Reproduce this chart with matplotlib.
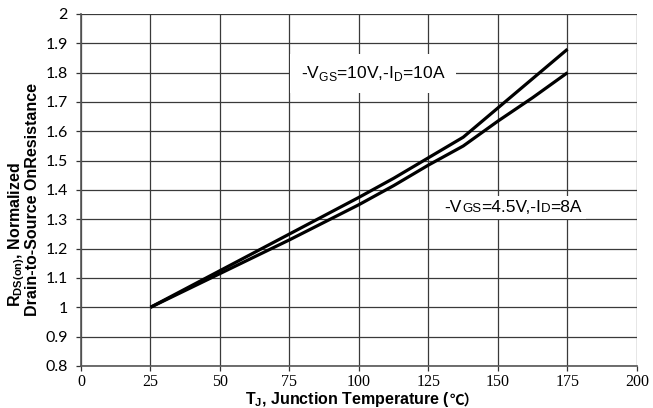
import matplotlib
matplotlib.use("Agg")
import matplotlib.pyplot as plt
from matplotlib.offsetbox import TextArea, HPacker, AnnotationBbox

plt.rcParams['mathtext.fontset'] = 'custom'
plt.rcParams['mathtext.rm'] = 'Liberation Sans'
plt.rcParams['mathtext.bf'] = 'Liberation Sans:bold'

# Data
temp = [25, 50, 75, 100, 112.5, 125, 137.5, 150, 162.5, 175]
r_10v = [1.0, 1.125, 1.25, 1.375, 1.44, 1.51, 1.58, 1.68, 1.78, 1.88]
r_45v = [1.0, 1.115, 1.23, 1.35, 1.415, 1.485, 1.55, 1.635, 1.715, 1.80]
xticks = [0, 25, 50, 75, 100, 125, 150, 175, 200]
yticks = [0.8, 0.9, 1.0, 1.1, 1.2, 1.3, 1.4, 1.5, 1.6, 1.7, 1.8, 1.9, 2.0]
ytick_labels = ['0.8', '0.9', '1', '1.1', '1.2', '1.3', '1.4', '1.5', '1.6', '1.7', '1.8', '1.9', '2']

W, H = 653, 408
fig = plt.figure(figsize=(W / 100, H / 100), dpi=100)
ax = fig.add_axes([0.124, 0.103, 0.8515, 0.8627])

ax.plot(temp, r_10v, color='black', lw=2.3, zorder=4, solid_capstyle='butt')
ax.plot(temp, r_45v, color='black', lw=2.3, zorder=4, solid_capstyle='butt')

ax.set_xlim(0, 200)
ax.set_ylim(0.8, 2.0)
ax.set_xticks(xticks)
ax.set_xticklabels([str(v) for v in xticks], fontfamily='Liberation Serif', fontsize=11.5)
ax.set_yticks(yticks)
ax.set_yticklabels(ytick_labels, fontfamily='Lato', fontsize=11.5)
ax.tick_params(axis='both', length=3.5, width=0.9, color='#333333')
ax.tick_params(axis='x', pad=2)
ax.tick_params(axis='y', pad=6)
ax.grid(True, color='#3a3a3a', lw=0.9, zorder=1)
ax.set_axisbelow(True)
for s in ['top', 'right']:
    ax.spines[s].set_visible(False)
for s in ['left', 'bottom']:
    ax.spines[s].set_color('#555555')
    ax.spines[s].set_linewidth(1.2)

# Y label (two lines placed as in the reference)
fig.text(17 / W, 1 - 235 / H, r'R$_{\mathbf{DS(on)}}$, Normalized', rotation=90,
         fontfamily='Liberation Sans', fontweight='bold', fontsize=11.5,
         ha='center', va='center')
fig.text(33 / W, 1 - 200 / H, 'Drain-to-Source OnResistance', rotation=90,
         fontfamily='Liberation Sans', fontweight='bold', fontsize=11.5,
         ha='center', va='center')

# X label
xl_parts = [
    TextArea(r'T$_{\mathbf{J}}$, Junction Temperature (',
             textprops=dict(fontfamily='Liberation Sans', fontweight='bold', fontsize=11.5)),
    TextArea('℃）', textprops=dict(fontfamily='Noto Sans CJK SC', fontweight='bold', fontsize=10.5)),
]
xl_pack = HPacker(children=xl_parts, align='baseline', pad=0, sep=0)
xl_ab = AnnotationBbox(xl_pack, (362 / W, 1 - 399.8 / H), xycoords='figure fraction',
                       frameon=False, pad=0, box_alignment=(0.5, 0.5))
fig.add_artist(xl_ab)

# Annotation 1
ax.text(105, 1.797, r'-V$_{\rm GS}$=10V,-I$_{\rm D}$=10A', fontfamily='Liberation Sans',
        fontsize=12.5, ha='center', va='center', zorder=3,
        bbox=dict(facecolor='white', edgecolor='none', boxstyle='square,pad=0.6'))

# Annotation 2 (small-caps style subscripts)
big, small = 12.5, 9.5
parts = [('-V', big), ('GS', small), ('=4.5V,-I', big), ('D', small), ('=8A', big)]
areas = [TextArea(t, textprops=dict(fontfamily='Liberation Sans', fontsize=s, color='black'))
         for t, s in parts]
pack = HPacker(children=areas, align='baseline', pad=0, sep=0)
ab = AnnotationBbox(pack, (155.5, 1.34), xycoords='data', frameon=True, pad=0.6,
                    bboxprops=dict(facecolor='white', edgecolor='none', boxstyle='square'),
                    zorder=3)
ax.add_artist(ab)

fig.savefig('out.png', dpi=100)
